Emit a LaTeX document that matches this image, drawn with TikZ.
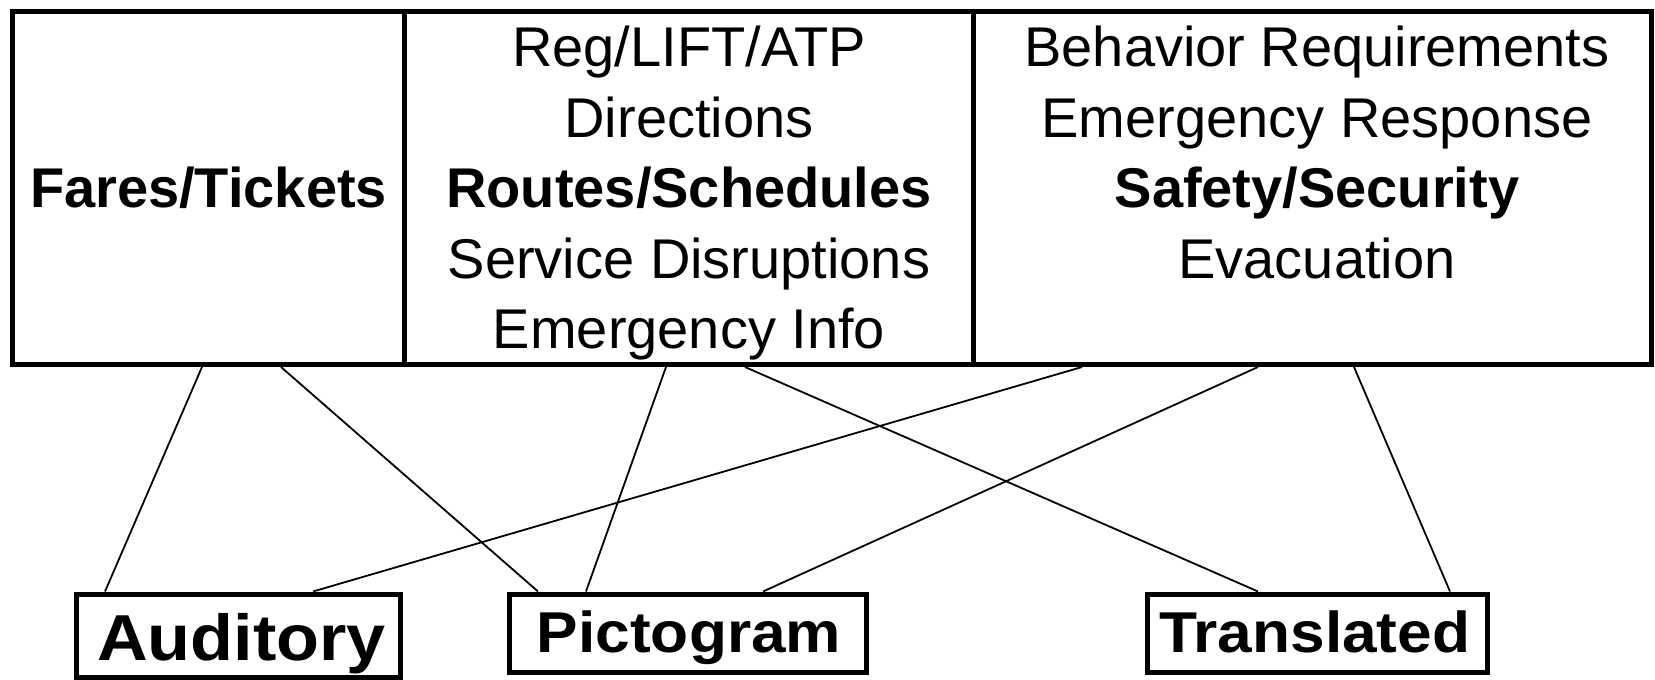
\documentclass[tikz,border=0pt]{standalone}
\usepackage{fontspec}
\setmainfont{Liberation Sans}
\newfontfamily\widefont[FakeStretch=1.08]{Liberation Sans}
\usetikzlibrary{calc}
\begin{document}
\begin{tikzpicture}[x=0.5pt,y=-0.5pt,
  colbox/.style={draw,line width=2.5pt,rectangle,inner sep=0pt,minimum height=176.75pt},
  tl/.style={anchor=base,inner sep=0pt,font=\fontsize{28}{33}\selectfont},
  outbox/.style={draw,line width=2.5pt,rectangle,inner sep=0pt},
  bl/.style={anchor=base,inner sep=0pt},
  link/.style={line width=0.9pt}]
\path[fill=white,use as bounding box] (0,0) rectangle (1655,680);
% top columns
\node[colbox,minimum width=196pt,font=\bfseries\fontsize{28}{33}\selectfont] (fares) at (208.5,187.75) {Fares/Tickets};
\node[colbox,minimum width=284.25pt] (routes) at (688.75,187.75) {};
\node[colbox,minimum width=339pt] (safety) at (1312,187.75) {};
% middle column text
\node[tl] (r1) at (689,66) {Reg/LIFT/ATP};
\node[tl] (r2) at (689,137) {Directions};
\node[tl] (r3) at (689,207) {\bfseries Routes/Schedules};
\node[tl] (r4) at (689,278) {Service Disruptions};
\node[tl] (r5) at (689,348) {Emergency Info};
% right column text
\node[tl] (s1) at (1317,66) {Behavior Requirements};
\node[tl] (s2) at (1317,137) {Emergency Response};
\node[tl] (s3) at (1317,207) {\bfseries Safety/Security};
\node[tl] (s4) at (1317,278) {Evacuation};
% bottom boxes
\node[outbox,minimum width=162pt,minimum height=41.5pt] (aud) at (238.5,635.5) {};
\node[outbox,minimum width=178.5pt,minimum height=39pt] (pic) at (688,633) {};
\node[outbox,minimum width=170pt,minimum height=39pt] (tra) at (1317.5,633) {};
\node[bl,font=\widefont\bfseries\fontsize{32.5}{36}\selectfont] (audt) at (241.5,660) {Auditory};
\node[bl,font=\widefont\bfseries\fontsize{28.8}{32}\selectfont] (pict) at (689,652) {Pictogram};
\node[bl,font=\widefont\bfseries\fontsize{28.8}{32}\selectfont] (trat) at (1314.7,652) {Translated};
% connectors
\draw[link] ($(fares.south west)+(192,0)$) -- ($(aud.north west)+(31,0)$);
\draw[link] ($(fares.south west)+(271,0)$) -- ($(pic.north west)+(31,0)$);
\draw[link] ($(routes.south west)+(264,0)$) -- ($(pic.north west)+(79,0)$);
\draw[link] ($(routes.south west)+(343,0)$) -- ($(tra.north west)+(113,0)$);
\draw[link] ($(safety.south west)+(111.5,0)$) -- ($(aud.north west)+(239,0)$);
\draw[link] ($(safety.south west)+(287.5,0)$) -- ($(pic.north west)+(256,0)$);
\draw[link] ($(safety.south west)+(383.5,0)$) -- ($(tra.north west)+(305,0)$);
\end{tikzpicture}
\end{document}
